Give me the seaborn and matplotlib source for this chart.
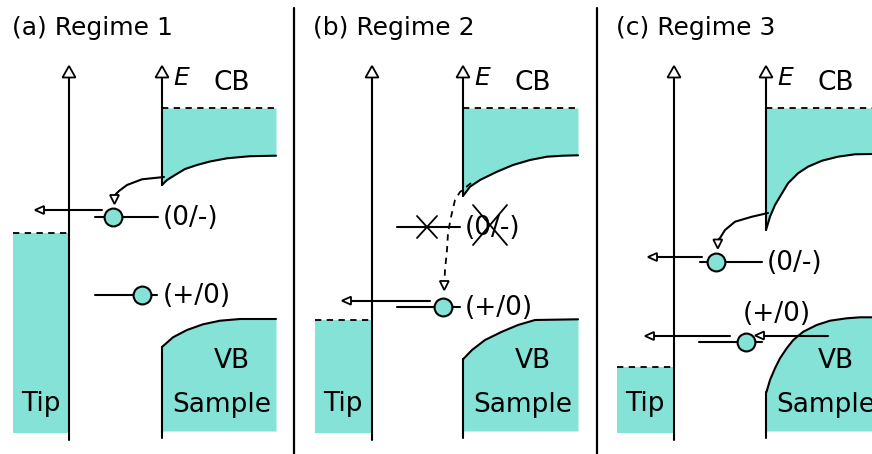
import numpy as np
import pandas as pd
import matplotlib
matplotlib.use("Agg")
import matplotlib.pyplot as plt
from matplotlib.patches import Polygon
import seaborn as sns

sns.set_theme(style="white")
plt.rcParams["font.family"] = ["DejaVu Sans"]

FILL = "#84E2D6"
INK = "black"

# ---- layout of the three regimes (pixel-like canvas units, y grows downward) ----
titles = ["(a) Regime 1", "(b) Regime 2", "(c) Regime 3"]
title_x = [12, 313, 616]
separator_x = [294, 597]

tip_axis_x = [69, 372, 674]
tip_left_x = [13, 315, 617]
tip_fermi_y = [233, 320, 367]
sample_axis_x = [162, 463, 766]
band_right_x = [276, 578, 872]

# conduction-band edge with band bending near the surface
cb_edge_x = [
    [162, 167, 175, 185, 197, 210, 227, 250, 276],
    [463, 470, 480, 497, 513, 530, 547, 563, 578],
    [766, 770, 775, 782, 788, 798, 808, 822, 838, 855, 872],
]
cb_edge_y = [
    [185, 180, 175, 169, 165, 161.5, 158.3, 156.2, 155.7],
    [196, 186.7, 180, 171.7, 165, 160, 156.7, 155.7, 155.3],
    [230, 216.7, 205, 193.3, 183.3, 173.3, 166.7, 160.7, 156.7, 154.3, 154],
]
# valence-band edge
vb_edge_x = [
    [162, 173, 187, 203, 220, 240, 276],
    [463, 472, 485, 502, 518, 535, 578],
    [766.5, 770, 775, 780, 786.7, 793.3, 803.3, 816.7, 830, 846.7, 860, 872],
]
vb_edge_y = [
    [347, 337.3, 330, 324.3, 320.7, 319, 319],
    [359.3, 350, 340, 331.7, 325, 320, 319.3],
    [392, 380, 368.3, 358.3, 348.3, 340, 331.7, 325, 320.7, 318.3, 317.3, 317.3],
]

# defect charge-transition levels
level_labels = ["(0/-)", "(+/0)"]
level_y = [[217, 295], [227, 307], [262, 342]]
level_x0 = [[95, 95], [397, 397], [700, 699]]
level_x1 = [[158, 157], [460, 460], [762, 762]]
defect_x = [[113, 142], [np.nan, 443], [716, 746]]
label_x = [[163, 163], [465, 465], [767, 743]]
label_base_y = [[225, 303], [235, 315], [270, 321]]

# electron hops to the tip: (y, start x, arrow tip x)
tip_hops = [[(210, 102, 35)], [(300.7, 430, 342)], [(257, 702, 648), (336, 730, 645)]]
# capture from the valence band in regime 3
vb_hop = (335.5, 828, 755)

# CB -> defect transfer paths
cb_path_a = ([164, 142, 127, 119, 115], [177, 179.3, 185, 191, 195])
cb_path_b = ([471, 460, 455, 451, 448, 447, 445, 444.5], [183, 192, 200, 217, 233, 250, 270, 281])
cb_path_c = ([768, 752, 735, 725, 720, 718], [213, 216.7, 221.7, 230, 238, 240])

fig = plt.figure(figsize=(8.72, 4.54), dpi=100)
ax = fig.add_axes([0, 0, 1, 1])

LW = 1.5


def head(tip, direction, length=9, half=4.2):
    """Open triangular arrow head with its point at `tip`."""
    tx, ty = tip
    dx, dy = direction
    bx, by = tx - dx * length, ty - dy * length
    px, py = -dy, dx
    tri = Polygon([(tx, ty), (bx + px * half, by + py * half), (bx - px * half, by - py * half)],
                  closed=True, facecolor="white", edgecolor=INK, lw=1.3, zorder=6)
    ax.add_patch(tri)


def dashed(xs, ys, **kw):
    ax.plot(xs, ys, color=INK, lw=1.3, dashes=(3.5, 3.0), zorder=3, **kw)


for i in range(3):
    # tip: filled metal up to its Fermi level
    ax.fill_between([tip_left_x[i], tip_axis_x[i]], tip_fermi_y[i], 433, color=FILL, lw=0, zorder=1)
    dashed([tip_left_x[i], tip_axis_x[i]], [tip_fermi_y[i]] * 2)
    ax.plot([tip_axis_x[i]] * 2, [440, 77], color=INK, lw=LW, zorder=4)
    head((tip_axis_x[i], 66), (0, -1), length=11.5, half=6.5)

    # sample: conduction band
    cbx, cby = np.array(cb_edge_x[i]), np.array(cb_edge_y[i])
    ax.fill_between(cbx, cby, 108, color=FILL, lw=0, zorder=1)
    dashed([sample_axis_x[i], band_right_x[i] + 1], [108, 108])
    sns.lineplot(x=cbx, y=cby, color=INK, lw=LW, estimator=None, sort=False, ax=ax, zorder=4)

    # sample: valence band
    vbx, vby = np.array(vb_edge_x[i]), np.array(vb_edge_y[i])
    ax.fill_between(vbx, vby, 431, color=FILL, lw=0, zorder=1)
    sns.lineplot(x=vbx, y=vby, color=INK, lw=LW, estimator=None, sort=False, ax=ax, zorder=4)

    # sample surface / energy axis
    sx = sample_axis_x[i]
    ax.plot([sx, sx], [cb_edge_y[i][0], 77], color=INK, lw=LW, zorder=4)
    ax.plot([sx, sx], [vb_edge_y[i][0], 438], color=INK, lw=LW, zorder=4)
    head((sx, 66), (0, -1), length=11.5, half=6.5)

    # defect levels
    for k in range(2):
        ax.plot([level_x0[i][k], level_x1[i][k]], [level_y[i][k]] * 2, color=INK, lw=LW, zorder=4)
        ax.text(label_x[i][k], label_base_y[i][k], level_labels[k], fontsize=19,
                ha="left", va="baseline", color=INK, zorder=7)
    pts = pd.DataFrame({"x": defect_x[i], "y": level_y[i]}).dropna()
    sns.scatterplot(data=pts, x="x", y="y", s=165, color=FILL, edgecolor=INK,
                    linewidth=1.5, ax=ax, zorder=8, legend=False)

    # hops to the tip
    for (hy, hx0, htip) in tip_hops[i]:
        ax.plot([hx0, htip + 8], [hy, hy], color=INK, lw=LW, zorder=5)
        head((htip, hy), (-1, 0), length=9, half=4)

    # labels
    ax.text(title_x[i], 35, titles[i], fontsize=18, ha="left", va="baseline", color=INK)
    ax.text(sx + 11, 85, "E", fontsize=18, style="italic", ha="left", va="baseline", color=INK)
    ax.text(sx + 51, 89.5, "CB", fontsize=19, ha="left", va="baseline", color=INK)
    ax.text(sx + 52, 368.5, "VB", fontsize=19, ha="left", va="baseline", color=INK, zorder=7)
    ax.text(sx + 10, 411.5, "Sample", fontsize=19, ha="left", va="baseline", color=INK, zorder=7)
    ax.text(tip_left_x[i] + 8, 411, "Tip", fontsize=19, ha="left", va="baseline", color=INK, zorder=7)

# CB -> defect transfers
ax.plot(*cb_path_a, color=INK, lw=LW, zorder=5)
head((114.5, 204), (0, 1), length=9, half=4.5)
dashed(*cb_path_b)
head((444.3, 290), (0, 1), length=9, half=4.5)
ax.plot(*cb_path_c, color=INK, lw=LW, zorder=5)
head((717.8, 248.5), (0, 1), length=9, half=4.5)

# regime 2: capture into (0/-) is blocked
ax.plot([417, 437], [216, 238], color=INK, lw=1.3, zorder=6)
ax.plot([417, 437], [238, 216], color=INK, lw=1.3, zorder=6)
ax.plot([473, 507], [205, 245], color=INK, lw=1.3, zorder=8)
ax.plot([473, 507], [245, 205], color=INK, lw=1.3, zorder=8)

# regime 3: hole capture from the valence band
vy, vx0, vtip = vb_hop
ax.plot([vx0, vtip + 8], [vy, vy], color=INK, lw=LW, zorder=5)
head((vtip, vy), (-1, 0), length=9, half=4)

# panel separators
for x in separator_x:
    ax.plot([x, x], [8, 454], color=INK, lw=1.6)

ax.set_xlim(0, 872)
ax.set_ylim(454, 0)
ax.axis("off")
fig.savefig("out.png", dpi=100)
